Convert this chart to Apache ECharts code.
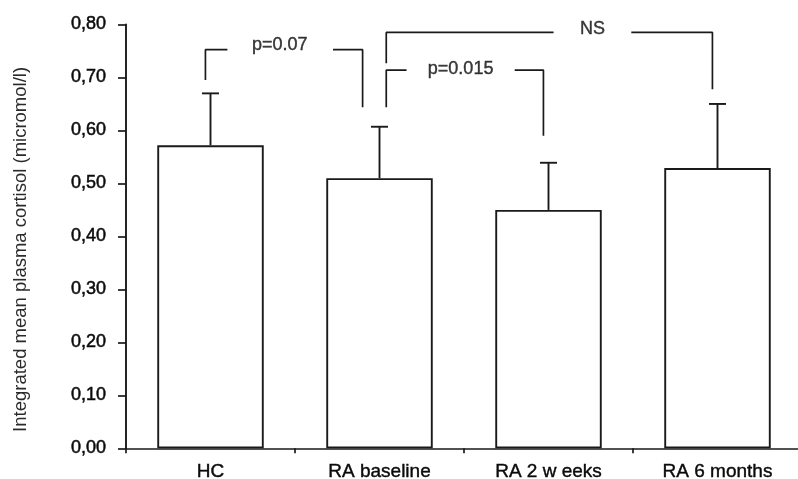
<!DOCTYPE html>
<html>
<head>
<meta charset="utf-8">
<script src="https://cdn.jsdelivr.net/npm/echarts@6/dist/echarts.min.js"></script>
<style>
html,body{margin:0;padding:0;background:#fff;}
#chart{width:798px;height:479px;}
</style>
</head>
<body>
<div id="chart"></div>
<script>
// ---- data ----
const categories = ['HC', 'RA baseline', 'RA 2 w eeks', 'RA 6 months'];
const meanValues = [0.572, 0.510, 0.450, 0.529];
const upperErrorValues = [0.670, 0.607, 0.539, 0.650];
const yTickValues = [0, 0.1, 0.2, 0.3, 0.4, 0.5, 0.6, 0.7, 0.8];

// comparison brackets (x in category-index units, y in data units)
const bracketLabels = ['p=0.07', 'NS', 'p=0.015'];
const bracketLeftX = [-0.03, 1.04, 1.04];
const bracketRightX = [0.90, 2.97, 1.97];
const bracketTopY = [0.7525, 0.785, 0.714];
const bracketLeftEndY = [0.695, 0.727, 0.644];
const bracketRightEndY = [0.644, 0.678, 0.590];
const bracketGapStartX = [0.10, 2.03, 1.16];
const bracketGapEndX = [0.725, 2.49, 1.80];
const bracketLabelX = [0.41, 2.26, 1.48];
const bracketLabelY = [0.762, 0.792, 0.716];

// ---- chart ----
const FONT = '"Liberation Sans", Arial, Helvetica, sans-serif';
const INK = '#1a1a1a';
const TXT = '#0a0a0a';
const chart = echarts.init(document.getElementById('chart'), null, {renderer: 'canvas'});

const bracketSeries = [];
for (let i = 0; i < bracketLabels.length; i++) {
  bracketSeries.push({
    type: 'line', xAxisIndex: 1, yAxisIndex: 0, symbol: 'none', silent: true,
    lineStyle: {color: INK, width: 1.7},
    data: [[bracketLeftX[i], bracketLeftEndY[i]], [bracketLeftX[i], bracketTopY[i]], [bracketGapStartX[i], bracketTopY[i]]]
  });
  bracketSeries.push({
    type: 'line', xAxisIndex: 1, yAxisIndex: 0, symbol: 'none', silent: true,
    lineStyle: {color: INK, width: 1.7},
    data: [[bracketGapEndX[i], bracketTopY[i]], [bracketRightX[i], bracketTopY[i]], [bracketRightX[i], bracketRightEndY[i]]]
  });
}

const option = {
  animation: false,
  backgroundColor: '#fff',
  grid: {left: 126, right: -4, top: 24.5, bottom: 30.7, containLabel: false, outerBoundsMode: 'none'},
  xAxis: [
    {
      type: 'category', data: categories, boundaryGap: true,
      axisLine: {lineStyle: {color: INK, width: 1.7}},
      axisTick: {show: true, length: 5, lineStyle: {color: INK, width: 1.7}},
      axisLabel: {color: TXT, fontFamily: FONT, fontSize: 19, margin: 14, interval: 0,
        textBorderColor: TXT, textBorderWidth: 0.4},
      splitLine: {show: false}
    },
    {type: 'value', min: -0.5, max: 3.5, show: false, axisLine: {onZero: false}}
  ],
  yAxis: {
    type: 'value', min: 0, max: 0.8, interval: 0.1,
    name: 'Integrated mean plasma cortisol (micromol/l)',
    nameLocation: 'middle', nameGap: 96,
    nameTextStyle: {color: '#2a2a2a', fontFamily: FONT, fontSize: 18.5, padding: [0, 26, 0, 0]},
    axisLine: {show: true, onZero: false, lineStyle: {color: INK, width: 1.9}},
    axisTick: {show: true, length: 8, lineStyle: {color: INK, width: 1.7}},
    axisLabel: {
      color: TXT, fontFamily: FONT, fontSize: 18, margin: 20,
      textBorderColor: TXT, textBorderWidth: 0.5,
      formatter: v => v.toFixed(2).replace('.', ',')
    },
    splitLine: {show: false}
  },
  series: [
    {
      type: 'bar', data: meanValues, barWidth: '63%',
      itemStyle: {color: '#fff', borderColor: INK, borderWidth: 1.9},
      silent: true, z: 2
    },
    {
      type: 'custom', xAxisIndex: 0, yAxisIndex: 0, z: 3, silent: true,
      data: meanValues.map((m, i) => [i, m, upperErrorValues[i]]),
      renderItem: function (params, api) {
        const base = api.coord([api.value(0), api.value(1)]);
        const top = api.coord([api.value(0), api.value(2)]);
        const half = 8.5;
        const style = {stroke: INK, lineWidth: 1.9};
        return {
          type: 'group',
          children: [
            {type: 'line', shape: {x1: base[0], y1: base[1], x2: top[0], y2: top[1]}, style: style},
            {type: 'line', shape: {x1: top[0] - half, y1: top[1], x2: top[0] + half, y2: top[1]}, style: style}
          ]
        };
      }
    },
    ...bracketSeries,
    {
      type: 'scatter', xAxisIndex: 1, yAxisIndex: 0, silent: true,
      symbolSize: 0.1, itemStyle: {color: 'rgba(0,0,0,0)'},
      data: bracketLabels.map((t, i) => ({value: [bracketLabelX[i], bracketLabelY[i]], name: t})),
      label: {
        show: true, position: 'inside', formatter: p => p.name,
        color: TXT, fontFamily: FONT, fontSize: 18,
        textBorderColor: TXT, textBorderWidth: 0.4
      }
    }
  ]
};
chart.setOption(option);
</script>
</body>
</html>
